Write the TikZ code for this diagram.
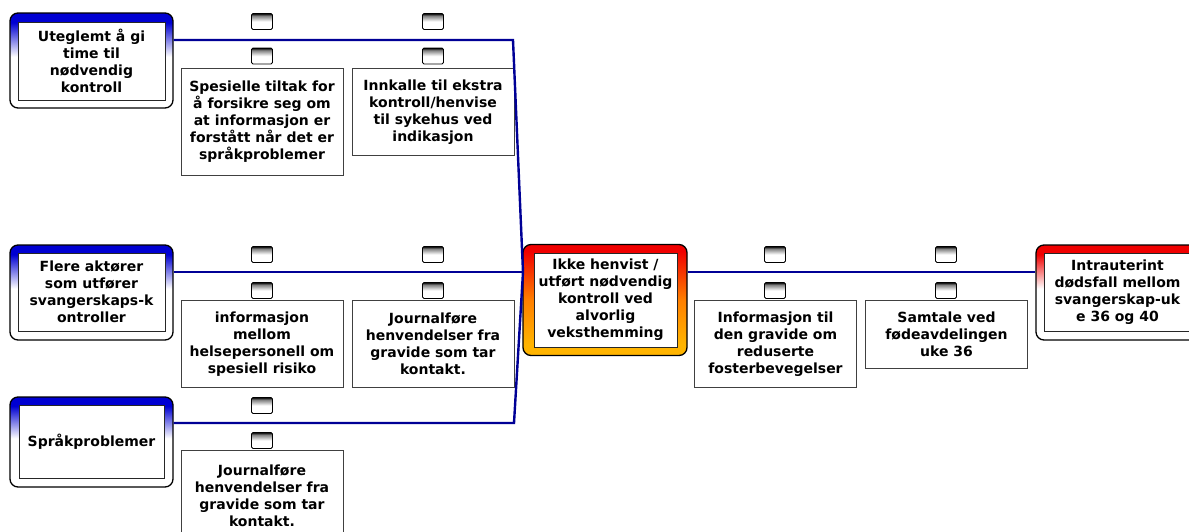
\documentclass[tikz,border=0pt]{standalone}
\usepackage{fontspec}
\setmainfont{DejaVu Sans}
\definecolor{navy}{RGB}{0,0,150}
\definecolor{threatblue}{RGB}{0,0,210}
\definecolor{eventorange}{RGB}{255,180,0}
\definecolor{eventred}{RGB}{240,0,0}
\pgfdeclareverticalshading{threatfade}{100bp}{color(0bp)=(white); color(52bp)=(white); color(70bp)=(threatblue); color(100bp)=(threatblue)}
\pgfdeclareverticalshading{riskfade}{100bp}{color(0bp)=(eventorange); color(30bp)=(eventorange); color(50bp)=(orange); color(72bp)=(eventred); color(100bp)=(eventred)}
\pgfdeclareverticalshading{lossfade}{100bp}{color(0bp)=(white); color(52bp)=(white); color(70bp)=(eventred); color(100bp)=(eventred)}
\pgfdeclareverticalshading{flagfade}{100bp}{color(0bp)=(white); color(50bp)=(white); color(68bp)=(black!50); color(75bp)=(black); color(100bp)=(black)}

\begin{document}
\begin{tikzpicture}[x=1pt,y=-1pt]
\tikzstyle{every node}=[inner sep=0pt, align=center, font=\fontsize{14}{17}\selectfont\bfseries]
\tikzstyle{frame}=[draw, line width=1.3pt, rounded corners=8pt, minimum width=163pt, minimum height=95pt]
\tikzstyle{threat}=[frame, shade, shading=threatfade]
\tikzstyle{card}=[draw=black!85, fill=white, line width=1pt, minimum width=147pt, minimum height=78pt]
\tikzstyle{barrier}=[draw=black!75, fill=white, line width=1pt, minimum width=162pt, anchor=north]
\tikzstyle{flag}=[draw, line width=0.9pt, rounded corners=1.5pt, minimum width=21pt, minimum height=16pt, shade, shading=flagfade]
\tikzstyle{link}=[draw=navy, line width=2.4pt]
\clip (0,0) rectangle (1189,531);
\draw (91.5,60.5) node (t1o) [threat] {};
\draw (91.5,61) node (t1) [card] {Uteglemt å gi\\time til\\nødvendig\\kontroll};
\draw (91.5,292.5) node (t2o) [threat] {};
\draw (91.5,292) node (t2) [card] {Flere aktører\\som utfører\\svangerskaps-k\\ontroller};
\draw (91.5,442) node (t3o) [threat, minimum height=90pt] {};
\draw (91.5,441.5) node (t3) [card, minimum width=145pt, minimum height=73pt] {Språkproblemer};
\draw (605,300) node (ho) [frame, shade, shading=riskfade, minimum width=164pt, minimum height=111pt] {};
\draw (605.5,300) node (h) [card, minimum width=143pt, minimum height=94pt] {Ikke henvist /\\utført nødvendig\\kontroll ved\\alvorlig\\veksthemming};
\draw (1117.5,292.5) node (ko) [frame, shade, shading=lossfade] {};
\draw (1117.5,292) node (k) [card] {Intrauterint\\dødsfall mellom\\svangerskap-uk\\e 36 og 40};
\draw (262,68) node (b1) [barrier, minimum height=107pt] {Spesielle tiltak for\\å forsikre seg om\\at informasjon er\\forstått når det er\\språkproblemer};
\draw (433,68) node (b2) [barrier, minimum height=87pt] {Innkalle til ekstra\\kontroll/henvise\\til sykehus ved\\indikasjon};
\draw (262,300) node (b3) [barrier, minimum height=87pt] {informasjon\\mellom\\helsepersonell om\\spesiell risiko};
\draw (433,300) node (b4) [barrier, minimum height=87pt] {Journalføre\\henvendelser fra\\gravide som tar\\kontakt.};
\draw (262,450) node (b5) [barrier, minimum height=90pt] {Journalføre\\henvendelser fra\\gravide som tar\\kontakt.};
\draw (775.5,300) node (b6) [barrier, minimum height=87pt] {Informasjon til\\den gravide om\\reduserte\\fosterbevegelser};
\draw (946.5,300) node (b7) [barrier, minimum height=68pt] {Samtale ved\\fødeavdelingen\\uke 36};
\draw (262,21.5) node (f1) [flag] {};
\draw (262,56) node (f2) [flag] {};
\draw (433,21.5) node (f3) [flag] {};
\draw (433,56) node (f4) [flag] {};
\draw (262,254.5) node (f5) [flag] {};
\draw (262,290.5) node (f6) [flag] {};
\draw (433,254.5) node (f7) [flag] {};
\draw (433,290.5) node (f8) [flag] {};
\draw (262,405.5) node (f9) [flag] {};
\draw (262,440.5) node (f10) [flag] {};
\draw (775,254.5) node (f11) [flag] {};
\draw (775,290.5) node (f12) [flag] {};
\draw (946,254.5) node (f13) [flag] {};
\draw (946,290.5) node (f14) [flag] {};
\coordinate (j1) at (513,40);
\coordinate (j3) at (514,423);
\coordinate (hub) at (523,272);
\draw[link] (t1o.east |- j1) -- (j1) -- (hub);
\draw[link] (t2o.east |- hub) -- (hub);
\draw[link] (t3o.east |- j3) -- (j3) -- (hub);
\draw[link] (ho.east |- hub) -- (ko.west |- hub);
\end{tikzpicture}
\end{document}
